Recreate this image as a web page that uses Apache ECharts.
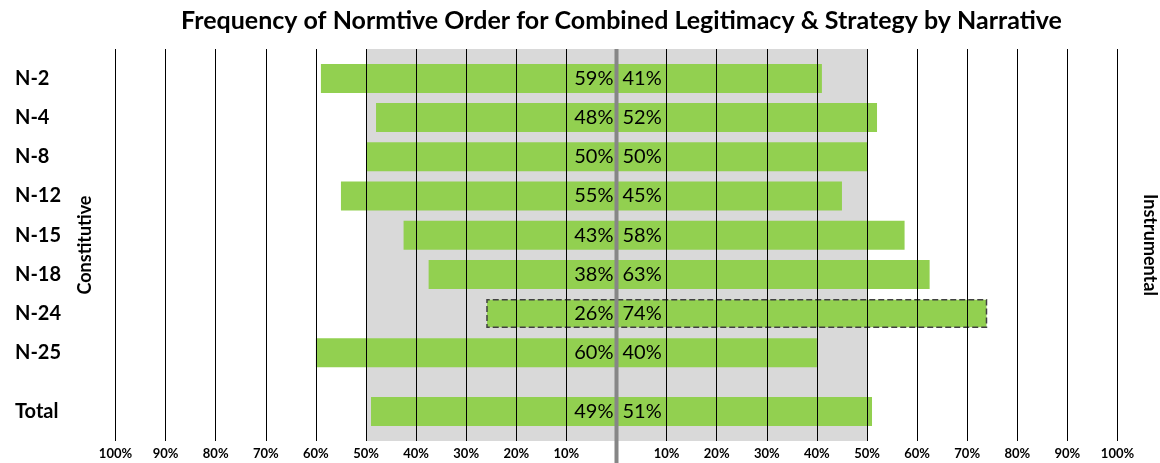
<!DOCTYPE html>
<html>
<head>
<meta charset="utf-8">
<script src="https://cdn.jsdelivr.net/npm/echarts@6/dist/echarts.min.js"></script>
<style>
html, body { margin: 0; padding: 0; background: #fff; }
#chart { width: 1160px; height: 463px; }
</style>
</head>
<body>
<div id="chart"></div>
<script>
var categories = ['N-2', 'N-4', 'N-8', 'N-12', 'N-15', 'N-18', 'N-24', 'N-25', 'Total']
var constitutive = [59, 48, 50, 55, 42.5, 37.5, 26, 60, 49]
var instrumental = [41, 52, 50, 45, 57.5, 62.5, 74, 40, 51]
var highlighted = 'N-24'
var bandRange = [-50, 50]

var font = 'Lato, "Open Sans", sans-serif'
var green = '#92d050'
var gridTop = 49, gridLeft = 115.5, gridRight = 42.5, gridBottom = 22

// each row takes two half-row slots, Total gets an extra half-row gap before it
var slotCount = 20
var slotNames = []
for (var s = 0; s < slotCount; s++) slotNames.push('')
var leftData = slotNames.map(function () { return '-' })
var rightData = slotNames.map(function () { return '-' })

categories.forEach(function (c, i) {
    var slot = c === 'Total' ? 18 : 2 * i + 1
    slotNames[slot] = c
    var dashed = c === highlighted ? {
        borderType: 'dashed', borderColor: '#404040', borderWidth: 1.5
    } : null
    leftData[slot] = dashed ? { value: -constitutive[i], itemStyle: dashed } : -constitutive[i]
    rightData[slot] = dashed ? { value: instrumental[i], itemStyle: dashed } : instrumental[i]
})

function pct(p) {
    return Math.round(Math.abs(p.value)) + '%'
}

var chart = echarts.init(document.getElementById('chart'))
var option = {
    animation: false,
    textStyle: { fontFamily: font },
    title: {
        text: 'Frequency of Normtive Order for Combined Legitimacy & Strategy by Narrative',
        left: 'center',
        top: 3,
        textStyle: { fontFamily: font, fontWeight: 'bold', fontSize: 25, color: '#000' }
    },
    grid: { top: gridTop, left: gridLeft, right: gridRight, bottom: gridBottom },
    xAxis: {
        type: 'value',
        min: -100,
        max: 100,
        interval: 10,
        z: 5,
        axisLine: { show: false },
        axisTick: { show: false },
        splitLine: { show: true, lineStyle: { color: '#000', width: 1 } },
        axisLabel: {
            margin: 6,
            fontFamily: font,
            fontWeight: 'bold',
            fontSize: 13,
            color: '#000',
            formatter: function (v) { return v === 0 ? '' : Math.abs(v) + '%' }
        }
    },
    yAxis: {
        type: 'category',
        inverse: true,
        data: slotNames,
        axisLine: { show: false },
        axisTick: { show: false },
        splitLine: { show: false },
        axisLabel: {
            interval: 0,
            align: 'left',
            margin: gridLeft - 15,
            fontFamily: font,
            fontWeight: 'bold',
            fontSize: 20,
            color: '#000'
        }
    },
    series: [
        {
            name: 'Constitutive',
            type: 'bar',
            barWidth: 29,
            barGap: '-100%',
            itemStyle: { color: green },
            label: {
                show: true,
                position: 'insideRight',
                distance: 3,
                fontFamily: font,
                fontSize: 20,
                color: '#000',
                formatter: pct
            },
            markArea: {
                silent: true,
                itemStyle: { color: '#d9d9d9' },
                data: [[{ xAxis: bandRange[0] }, { xAxis: bandRange[1] }]]
            },
            data: leftData
        },
        {
            name: 'Instrumental',
            type: 'bar',
            barWidth: 29,
            barGap: '-100%',
            itemStyle: { color: green },
            label: {
                show: true,
                position: 'insideLeft',
                distance: 6,
                fontFamily: font,
                fontSize: 20,
                color: '#000',
                formatter: pct
            },
            data: rightData
        }
    ]
}
chart.setOption(option)

// title is centred over the 0 line; centre divider runs to the page bottom
var x0 = chart.convertToPixel({ xAxisIndex: 0 }, 0)
chart.setOption({
    title: { left: x0, textAlign: 'center' },
    graphic: [
        {
            type: 'line',
            z: 10,
            shape: { x1: x0, y1: gridTop, x2: x0, y2: 463 },
            style: { stroke: '#868686', lineWidth: 4 }
        },
        {
            type: 'text',
            x: 85, y: 245,
            rotation: Math.PI / 2,
            style: {
                text: 'Constitutive', fontFamily: font, fontWeight: 'bold', fontSize: 18,
                fill: '#000', align: 'center', verticalAlign: 'middle'
            }
        },
        {
            type: 'text',
            x: 1150, y: 245,
            rotation: -Math.PI / 2,
            style: {
                text: 'Instrumental', fontFamily: font, fontWeight: 'bold', fontSize: 18,
                fill: '#000', align: 'center', verticalAlign: 'middle'
            }
        }
    ]
})
</script>
</body>
</html>
